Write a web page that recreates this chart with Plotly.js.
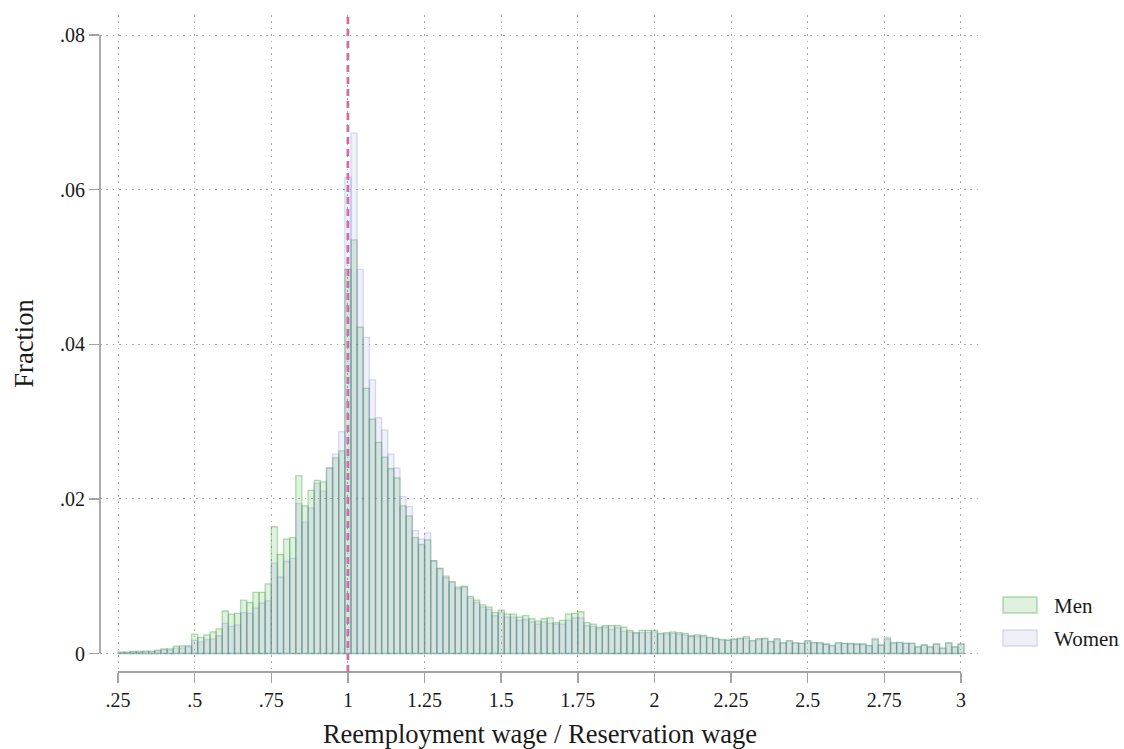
<!DOCTYPE html>
<html>
<head>
<meta charset="utf-8">
<script src="https://cdn.plot.ly/plotly-3.0.1.min.js"></script>
<style>html,body{margin:0;padding:0;background:#fff;}</style>
</head>
<body>
<div id="chart" style="width:1124px;height:749px;"></div>
<script>
// Histogram bins: left edge and width (fraction of observations per bin)
const binStart = 0.25;
const binWidth = 0.02;

const men = [
  0.00017, 0.00017, 0.00026, 0.00026, 0.0003, 0.0003, 0.00043, 0.0006, 0.0006, 0.00095,
  0.001, 0.001, 0.0025, 0.0021, 0.0024, 0.0028, 0.0032, 0.0055, 0.0051, 0.0052,
  0.0069, 0.0066, 0.0079, 0.0079, 0.009, 0.0164, 0.0128, 0.0148, 0.015, 0.023,
  0.0191, 0.0211, 0.0224, 0.0222, 0.024, 0.0253, 0.0262, 0.0497, 0.0535, 0.0422,
  0.0343, 0.0303, 0.0273, 0.0254, 0.0239, 0.0227, 0.0191, 0.0178, 0.015, 0.0141,
  0.0147, 0.012, 0.011, 0.0100, 0.0093, 0.0086, 0.0087, 0.0074, 0.0069, 0.0063,
  0.0060, 0.0053, 0.0056, 0.0051, 0.0051, 0.0047, 0.0049, 0.0045, 0.0042, 0.0045,
  0.0046, 0.0040, 0.0043, 0.0051, 0.0052, 0.0054, 0.0040, 0.0038, 0.0034, 0.0036,
  0.0036, 0.0036, 0.0034, 0.0030, 0.0027, 0.0030, 0.0030, 0.0030, 0.0026, 0.0027,
  0.0028, 0.0027, 0.0026, 0.0023, 0.0024, 0.00235, 0.0021, 0.0020, 0.00183, 0.00175,
  0.00188, 0.0020, 0.00218, 0.00166, 0.00192, 0.0020, 0.00157, 0.00192, 0.0014, 0.00166,
  0.0014, 0.00132, 0.00166, 0.0014, 0.0014, 0.00123, 0.00106, 0.0014, 0.00132, 0.00132,
  0.00123, 0.00123, 0.00106, 0.0018, 0.0011, 0.0019, 0.0014, 0.00145, 0.00132, 0.00132,
  0.00088, 0.0011, 0.00088, 0.00123, 0.0007, 0.0014, 0.00088, 0.00123
];

const women = [
  0.00015, 0.00015, 0.0002, 0.0002, 0.00025, 0.00025, 0.00034, 0.0005, 0.00043, 0.0007,
  0.0007, 0.00086, 0.0017, 0.0015, 0.0018, 0.0019, 0.0023, 0.0039, 0.0035, 0.0037,
  0.0053, 0.0052, 0.0059, 0.0065, 0.0068, 0.0117, 0.0099, 0.0119, 0.0123, 0.0194,
  0.017, 0.0188, 0.022, 0.021, 0.024, 0.0258, 0.0287, 0.0616, 0.0673, 0.0497,
  0.0409, 0.0354, 0.0305, 0.0289, 0.0258, 0.024, 0.0203, 0.019, 0.0159, 0.0148,
  0.0156, 0.012, 0.011, 0.0098, 0.0092, 0.0084, 0.0086, 0.0072, 0.0066, 0.006,
  0.0057, 0.0049, 0.0053, 0.0047, 0.0047, 0.0043, 0.0044, 0.0041, 0.0038, 0.0041,
  0.0039, 0.0038, 0.0038, 0.0043, 0.0046, 0.0046, 0.0036, 0.0035, 0.0032, 0.0034,
  0.0031, 0.0033, 0.0029, 0.0028, 0.0026, 0.0027, 0.0027, 0.0028, 0.0025, 0.0025,
  0.0026, 0.0025, 0.0024, 0.0022, 0.0022, 0.0022, 0.0020, 0.0019, 0.0017, 0.0017,
  0.0018, 0.0019, 0.0020, 0.0016, 0.0018, 0.0019, 0.0015, 0.0018, 0.0013, 0.0016,
  0.0013, 0.0013, 0.0016, 0.0014, 0.0013, 0.0012, 0.001, 0.0013, 0.0013, 0.0012,
  0.0012, 0.0012, 0.001, 0.0020, 0.0011, 0.0021, 0.0013, 0.0014, 0.0013, 0.0013,
  0.0008, 0.0011, 0.0008, 0.0012, 0.0007, 0.0013, 0.0008, 0.0012
];

const seriesNames = ['Men', 'Women'];
const xTickVals = [0.25, 0.5, 0.75, 1, 1.25, 1.5, 1.75, 2, 2.25, 2.5, 2.75, 3];
const xTickText = ['.25', '.5', '.75', '1', '1.25', '1.5', '1.75', '2', '2.25', '2.5', '2.75', '3'];
const yTickVals = [0, 0.02, 0.04, 0.06, 0.08];
const yTickText = ['0', '.02', '.04', '.06', '.08'];
const refLineX = 1;

const binCenters = men.map((_, i) => binStart + binWidth * (i + 0.5));

const FONT = 'Liberation Serif, Times New Roman, serif';
const TXT = '#1a1a1a';
const AXC = '#a3a3a3';
const GRID = '#ababab';

const menFill = 'rgba(65,167,65,0.16)';
const menLine = 'rgba(65,167,65,0.40)';
const womenFill = 'rgba(118,118,203,0.11)';
const womenLine = 'rgba(118,118,203,0.26)';

const traces = [
  {
    type: 'bar', name: seriesNames[0], x: binCenters, y: men, width: binWidth,
    marker: { color: menFill, line: { color: menLine, width: 1.3 } },
    showlegend: false, hoverinfo: 'skip'
  },
  {
    type: 'bar', name: seriesNames[1], x: binCenters, y: women, width: binWidth,
    marker: { color: womenFill, line: { color: womenLine, width: 1.3 } },
    showlegend: false, hoverinfo: 'skip'
  }
];

// plot geometry (pixels)
const L = 100, R = 980, T = 15, B = 672;
const W = R - L, H = B - T;
const px = p => (p - L) / W;
const py = p => (B - p) / H;

const layout = {
  width: 1124, height: 749,
  margin: { l: L, r: 1124 - R, t: T, b: 749 - B, pad: 0 },
  paper_bgcolor: '#ffffff', plot_bgcolor: '#ffffff',
  barmode: 'overlay', bargap: 0,
  hovermode: false,
  font: { family: FONT, color: TXT },
  xaxis: {
    range: [0.19127, 3.062], fixedrange: true,
    tickmode: 'array', tickvals: xTickVals, ticktext: xTickText,
    ticks: 'outside', ticklen: 10, tickwidth: 1.5, tickcolor: AXC,
    showline: false, zeroline: false,
    showgrid: true, gridcolor: GRID, gridwidth: 1, griddash: '1.5px,4.9px',
    tickfont: { family: FONT, size: 20, color: TXT },
    title: { text: 'Reemployment wage / Reservation wage', font: { family: FONT, size: 26.5, color: TXT }, standoff: 14 }
  },
  yaxis: {
    range: [-0.00239, 0.08259], fixedrange: true,
    tickmode: 'array', tickvals: yTickVals, ticktext: yTickText,
    ticks: 'outside', ticklen: 10, tickwidth: 1.5, tickcolor: AXC,
    showline: false, zeroline: false,
    showgrid: true, gridcolor: GRID, gridwidth: 1, griddash: '1.5px,4.9px',
    tickfont: { family: FONT, size: 20, color: TXT },
    title: { text: 'Fraction', font: { family: FONT, size: 26.5, color: TXT }, standoff: 18 }
  },
  shapes: [
    { type: 'line', xref: 'x', yref: 'paper', x0: xTickVals[0], x1: xTickVals[xTickVals.length - 1], y0: 0, y1: 0,
      line: { color: AXC, width: 1.8 } },
    { type: 'line', xref: 'paper', yref: 'y', x0: 0, x1: 0, y0: yTickVals[0], y1: yTickVals[yTickVals.length - 1],
      line: { color: AXC, width: 1.8 } },
    { type: 'line', xref: 'x', yref: 'paper', x0: refLineX, x1: refLineX, y0: 0, y1: 1,
      line: { color: '#cd6ea5', width: 2.8, dash: '7px,5px' } },
    { type: 'rect', xref: 'paper', yref: 'paper', x0: px(1003), x1: px(1037), y0: py(613), y1: py(597),
      fillcolor: menFill, line: { color: menLine, width: 1.5 } },
    { type: 'rect', xref: 'paper', yref: 'paper', x0: px(1003), x1: px(1037), y0: py(646), y1: py(630),
      fillcolor: womenFill, line: { color: womenLine, width: 1.5 } }
  ],
  annotations: [
    { xref: 'paper', yref: 'paper', x: px(1052), y: py(606), xanchor: 'left', yanchor: 'middle',
      text: seriesNames[0], showarrow: false, font: { family: FONT, size: 21, color: TXT } },
    { xref: 'paper', yref: 'paper', x: px(1052), y: py(639), xanchor: 'left', yanchor: 'middle',
      text: seriesNames[1], showarrow: false, font: { family: FONT, size: 21, color: TXT } }
  ]
};

Plotly.newPlot('chart', traces, layout, { displayModeBar: false, staticPlot: true });
</script>
</body>
</html>
